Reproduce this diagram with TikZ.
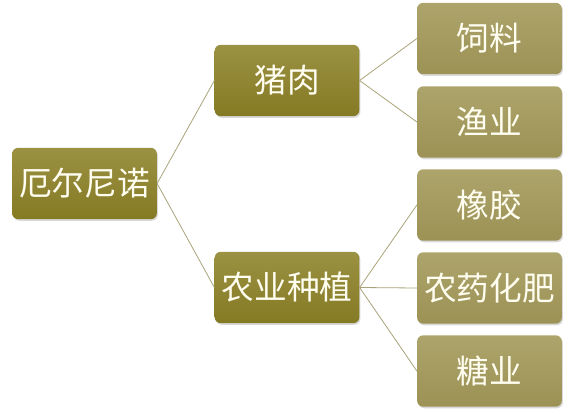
\documentclass[tikz,border=0pt]{standalone}
\usepackage{fontspec}
\newfontfamily\cjk{Noto Sans CJK SC}
\usetikzlibrary{shadows}
\definecolor{olivetop}{HTML}{9A9142}
\definecolor{olivebot}{HTML}{857A24}
\definecolor{tantop}{HTML}{ADA46C}
\definecolor{tanbot}{HTML}{9C9255}
\definecolor{linkcol}{HTML}{A9A37A}
\definecolor{txtcol}{HTML}{FFFDF0}
\begin{document}
\begin{tikzpicture}[x=0.75pt,y=-0.75pt,
  box/.style={rounded corners=4.5pt, minimum width=108.5pt, minimum height=53.5pt,
    inner sep=0pt, text=txtcol, font=\cjk\fontsize{24.5}{28}\selectfont,
    drop shadow={opacity=0.3, shadow xshift=0.8pt, shadow yshift=-1.2pt}},
  darkbox/.style={box, top color=olivetop, bottom color=olivebot},
  lightbox/.style={box, top color=tantop, bottom color=tanbot},
  link/.style={draw=linkcol, line width=0.6pt}]
\useasboundingbox (0,0) rectangle (575,414);
% root
\node[darkbox] (elnino) at (84.5,183.5) {厄尔尼诺};
% middle level
\node[darkbox] (pork) at (287,80.5) {猪肉};
\node[darkbox] (farming) at (287,287.5) {农业种植};
% leaves
\node[lightbox] (feed) at (489.5,38.5) {饲料};
\node[lightbox] (fishery) at (489.5,122) {渔业};
\node[lightbox] (rubber) at (489.5,205) {橡胶};
\node[lightbox] (fertilizer) at (489.5,288) {农药化肥};
\node[lightbox] (sugar) at (489.5,371) {糖业};
% links
\draw[link] (elnino.east) -- (pork.west);
\draw[link] (elnino.east) -- (farming.west);
\draw[link] (pork.east) -- (feed.west);
\draw[link] (pork.east) -- (fishery.west);
\draw[link] (farming.east) -- (rubber.west);
\draw[link] (farming.east) -- (fertilizer.west);
\draw[link] (farming.east) -- (sugar.west);
\end{tikzpicture}
\end{document}
